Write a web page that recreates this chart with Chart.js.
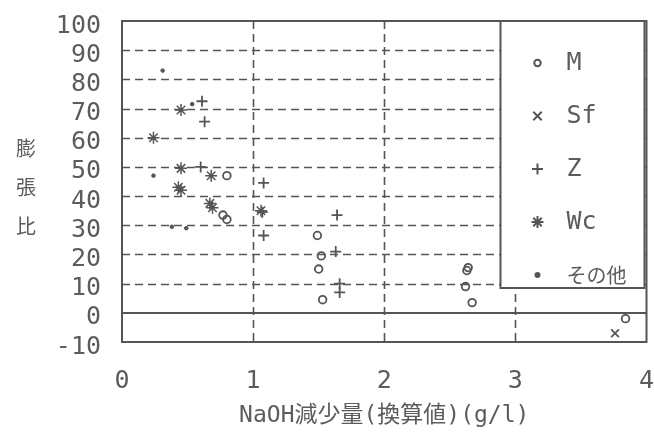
<!DOCTYPE html>
<html><head><meta charset="utf-8">
<script src="https://cdn.jsdelivr.net/npm/chart.js@4"></script>
<style>html,body{margin:0;padding:0;background:#fff}</style>
</head><body>
<canvas id="c" width="654" height="434"></canvas>
<script>
const seriesNames = ['M', 'Sf', 'Z', 'Wc', 'その他'];
const mX  = [0.80, 0.77, 0.80, 1.49, 1.52, 1.50, 1.53, 2.64, 2.63, 2.62, 2.67, 3.84];
const mY  = [47, 33.5, 32, 26.5, 19.5, 15, 4.5, 15.5, 14.5, 9, 3.5, -2];
const sfX = [3.76];
const sfY = [-7];
const zX  = [0.61, 0.63, 0.60, 1.08, 1.07, 1.08, 1.64, 1.63, 1.66, 1.66];
const zY  = [72.5, 65.5, 50, 44.5, 34.5, 26.5, 33.5, 21, 10, 7];
const wcX = [0.24, 0.45, 0.45, 0.68, 0.43, 0.45, 0.67, 0.69, 1.06];
const wcY = [60, 69.5, 49.5, 47, 43, 42, 37.5, 36, 35];
const etcX = [0.31, 0.535, 0.24, 0.38, 0.49];
const etcY = [83, 71.5, 47, 29.5, 29];
const xTicks = [0, 1, 2, 3, 4];
const yTicks = [-10, 0, 10, 20, 30, 40, 50, 60, 70, 80, 90, 100];
const xTitle = 'NaOH減少量(換算値)(g/l)';
const yTitle = '膨張比';

const INK = '#555';
const TXT = '#5c5c5c';
const MONO = '"DejaVu Sans Mono", "Noto Sans CJK JP", monospace';
const CJK = '"Noto Sans CJK JP", sans-serif';

const pts = (xs, ys) => xs.map((x, i) => ({x, y: ys[i]}));
const styles = [
  {pointStyle: 'circle', radius: 3.8, fill: false, bw: 1.8, legR: 3.2},
  {pointStyle: 'crossRot', radius: 5.5, fill: false, bw: 1.8, legR: 6},
  {pointStyle: 'cross', radius: 5.5, fill: false, bw: 1.8, legR: 5.5},
  {pointStyle: 'star', radius: 6, fill: false, bw: 1.5, legR: 6},
  {pointStyle: 'circle', radius: 1.8, fill: true, bw: 1, legR: 2}
];
const dataArr = [pts(mX, mY), pts(sfX, sfY), pts(zX, zY), pts(wcX, wcY), pts(etcX, etcY)];

const datasets = seriesNames.map((n, i) => ({
  label: n,
  data: dataArr[i],
  pointStyle: styles[i].pointStyle,
  pointRadius: styles[i].radius,
  pointHoverRadius: styles[i].radius,
  borderColor: INK,
  backgroundColor: styles[i].fill ? INK : 'rgba(0,0,0,0)',
  pointBorderWidth: styles[i].bw,
  showLine: false
}));

const framePlugin = {
  id: 'frame',
  beforeDatasetsDraw(chart) {
    const {ctx, chartArea: a, scales: {x, y}} = chart;
    ctx.save();
    ctx.strokeStyle = INK;
    ctx.lineWidth = 1.6;
    ctx.setLineDash([8, 5]);
    yTicks.forEach(v => {
      if (v === 0 || v === yTicks[0] || v === yTicks[yTicks.length - 1]) return;
      const py = Math.round(y.getPixelForValue(v)) + 0.5;
      ctx.beginPath(); ctx.moveTo(a.left, py); ctx.lineTo(a.right, py); ctx.stroke();
    });
    xTicks.forEach(v => {
      if (v === xTicks[0] || v === xTicks[xTicks.length - 1]) return;
      const px = Math.round(x.getPixelForValue(v)) + 0.5;
      ctx.beginPath(); ctx.moveTo(px, a.top); ctx.lineTo(px, a.bottom); ctx.stroke();
    });
    ctx.setLineDash([]);
    ctx.lineWidth = 2;
    const p0 = Math.round(y.getPixelForValue(0));
    ctx.beginPath(); ctx.moveTo(a.left, p0); ctx.lineTo(a.right, p0); ctx.stroke();
    ctx.strokeRect(a.left, a.top, a.right - a.left, a.bottom - a.top);
    ctx.restore();
  },
  afterDatasetsDraw(chart) {
    const {ctx, chartArea: a} = chart;
    ctx.save();
    const L = a.right - 146, T = a.top, R = a.right - 2, B = a.top + 267;
    ctx.fillStyle = '#fff';
    ctx.fillRect(L, T, R - L, B - T);
    ctx.strokeStyle = INK;
    ctx.lineWidth = 2;
    ctx.strokeRect(L, T, R - L, B - T);
    chart.data.datasets.forEach((ds, i) => {
      const cy = T + 42 + i * 53;
      ctx.strokeStyle = INK;
      ctx.fillStyle = ds.backgroundColor;
      Chart.helpers.drawPoint(ctx, {
        pointStyle: ds.pointStyle,
        radius: styles[i].legR,
        rotation: 0,
        borderWidth: styles[i].bw
      }, L + 37, cy);
      ctx.fillStyle = TXT;
      ctx.textBaseline = 'middle';
      ctx.textAlign = 'left';
      ctx.font = i === 4 ? '20px ' + CJK : '25px ' + MONO;
      ctx.fillText(ds.label, L + 66, cy);
    });
    // vertical y-axis title
    ctx.fillStyle = TXT;
    ctx.font = '20px ' + CJK;
    ctx.textAlign = 'center';
    ctx.textBaseline = 'middle';
    Array.from(yTitle).forEach((ch, i) => ctx.fillText(ch, 26, 148 + i * 39));
    ctx.restore();
  }
};

new Chart(document.getElementById('c'), {
  type: 'scatter',
  data: {datasets},
  options: {
    responsive: false,
    animation: false,
    events: [],
    layout: {padding: {left: 0, top: 21, right: 5, bottom: 0}},
    plugins: {legend: {display: false}, tooltip: {enabled: false}},
    scales: {
      x: {
        type: 'linear', min: xTicks[0], max: xTicks[xTicks.length - 1],
        afterBuildTicks: s => { s.ticks = xTicks.map(v => ({value: v})); },
        afterFit: s => { s.height = 92; s.paddingLeft = 0; s.paddingRight = 0; },
        grid: {display: false, drawTicks: false},
        border: {display: false},
        ticks: {color: TXT, font: {family: MONO, size: 25}, padding: 24, maxRotation: 0, autoSkip: false},
        title: {display: true, text: xTitle, color: TXT, font: {family: MONO, size: 23}, padding: {top: 5}}
      },
      y: {
        type: 'linear', min: yTicks[0], max: yTicks[yTicks.length - 1],
        afterBuildTicks: s => { s.ticks = yTicks.map(v => ({value: v})); },
        afterFit: s => { s.width = 122; s.paddingTop = 0; s.paddingBottom = 0; },
        grid: {display: false, drawTicks: false},
        border: {display: false},
        ticks: {color: TXT, font: {family: MONO, size: 25}, padding: 21, labelOffset: 5, autoSkip: false}
      }
    }
  },
  plugins: [framePlugin]
});
</script>
</body></html>
